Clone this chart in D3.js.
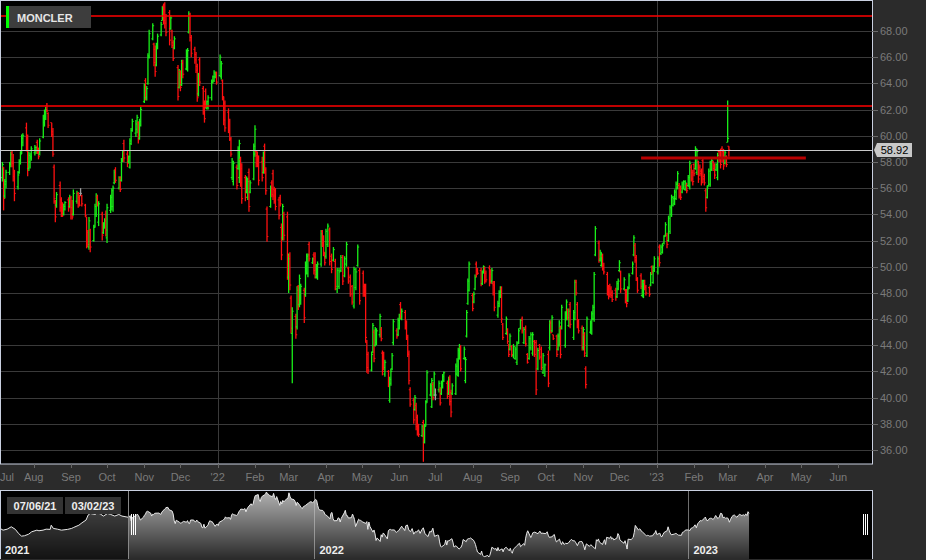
<!DOCTYPE html>
<html><head><meta charset="utf-8">
<script src="https://cdn.jsdelivr.net/npm/d3@7/dist/d3.min.js"></script>
<style>
html,body{margin:0;padding:0;background:#2b2b2b;overflow:hidden;}
svg{display:block;font-family:Arial,"Liberation Sans",sans-serif;}
</style></head><body>
<svg id="c" width="926" height="560"></svg>
<script>
// ---------------- DATA ----------------
const symbol = "MONCLER";
const firstDay = "2021-07-06", lastDay = "2023-03-02";
const viewStart = "2021-07-04", viewEnd = "2023-06-29";
const navStart = "2021-03-01", navEnd = "2023-06-30";

// daily bars [open, high, low, close] per month
const jul21 = [[56.8,58.0,56.5,57.8],[57.6,57.6,54.3,55.2],[55.4,56.7,55.2,56.5],[56.3,57.4,56.0,57.2],[57.2,58.0,57.0,57.9],[57.8,58.8,57.6,58.6],[58.7,58.9,57.6,57.9],[58.0,58.6,56.5,56.9],[56.9,57.4,55.0,55.6],[56.1,57.3,55.9,57.0],[57.2,58.2,57.1,58.0],[58.0,58.8,57.8,58.6],[58.8,60.1,58.6,59.8],[59.5,60.2,59.2,60.0],[60.6,61.0,58.8,59.1],[59.5,60.1,56.9,57.6],[57.5,58.8,57.3,58.5],[58.0,58.7,57.5,58.4],[58.3,59.2,58.1,59.0]];
const aug21 = [[58.7,59.3,58.5,59.1],[58.9,59.2,58.6,59.1],[59.5,59.7,58.6,58.8],[58.9,59.1,58.2,58.4],[58.6,59.8,58.5,59.6],[59.9,61.6,59.8,61.3],[61.0,62.0,60.7,61.8],[61.5,62.2,61.2,62.0],[62.3,62.5,61.8,61.9],[61.7,61.8,60.6,60.8],[61.0,61.0,59.9,60.1],[60.3,60.6,58.4,58.6],[57.6,57.8,54.8,55.2],[55.0,55.1,53.4,53.8],[54.7,55.7,54.5,55.5],[56.2,56.5,54.2,54.5],[55.1,55.3,53.8,54.1],[54.9,54.9,53.8,54.0],[54.0,54.8,53.9,54.6],[54.4,55.0,54.3,54.9],[55.1,55.3,54.2,54.5],[54.6,55.5,54.5,55.3]];
const sep21 = [[55.2,55.4,53.6,54.0],[54.5,55.1,53.6,53.8],[54.0,55.9,53.9,55.6],[55.0,55.8,54.8,55.6],[55.6,55.7,54.5,54.8],[55.3,55.5,54.6,54.7],[55.6,56.0,55.4,55.6],[55.4,55.5,54.6,54.8],[54.7,54.8,53.8,53.9],[53.8,53.8,51.4,51.9],[52.6,52.8,51.5,51.7],[51.5,53.8,51.3,53.5],[52.8,52.9,51.1,51.5],[52.0,53.2,51.9,53.0],[53.1,54.8,53.0,54.6],[54.0,55.6,53.8,55.3],[55.3,55.5,54.6,54.7],[53.4,55.0,53.1,54.8],[54.0,54.2,52.0,52.4],[52.6,53.4,52.5,53.3],[53.0,53.7,52.9,53.5],[54.0,54.3,52.3,52.8]];
const oct21 = [[52.2,54.8,51.8,54.5],[54.3,55.5,54.1,55.3],[54.6,56.0,54.3,55.8],[54.6,56.2,54.2,56.0],[56.4,57.4,56.3,57.2],[57.4,57.6,56.4,56.6],[56.0,56.9,55.9,56.8],[56.8,56.9,55.7,55.9],[56.6,58.3,56.5,58.1],[58.1,58.9,58.0,58.8],[59.4,59.7,58.0,58.3],[58.6,58.9,57.6,57.9],[58.0,58.5,57.9,58.4],[57.6,59.8,57.5,59.6],[59.4,60.6,59.3,60.4],[60.4,61.3,60.3,61.1],[60.2,61.2,59.9,60.9],[60.5,61.6,60.2,61.4],[61.0,61.1,59.4,59.7],[59.8,61.3,59.7,61.1],[60.8,62.2,60.7,62.0]];
const nov21 = [[62.6,64.0,62.5,63.8],[64.2,64.4,62.7,63.0],[62.9,63.8,62.7,63.6],[64.0,66.3,63.9,66.0],[66.1,68.1,65.9,67.8],[67.4,68.6,67.3,68.4],[67.0,67.1,65.3,65.6],[66.6,66.9,64.5,64.9],[65.4,67.1,65.3,66.9],[66.7,67.8,66.6,67.6],[67.7,68.7,67.6,68.5],[68.8,69.9,68.8,69.7],[69.9,70.1,68.5,68.8],[70.0,70.2,68.2,68.6],[69.1,69.3,67.6,67.9],[69.4,69.6,66.9,67.3],[68.2,69.2,68.1,69.0],[68.0,68.1,66.7,66.9],[67.1,67.3,65.7,65.9],[66.7,67.6,66.6,67.4],[65.2,65.4,62.7,63.0],[63.7,65.1,63.6,64.9]];
const dec21 = [[64.9,65.0,63.4,63.7],[63.9,65.8,63.8,65.5],[65.6,65.8,64.4,64.7],[65.1,66.6,65.0,66.4],[65.2,66.7,64.9,66.5],[67.9,69.5,67.8,69.3],[69.2,69.4,67.2,67.5],[67.5,67.7,66.0,66.3],[66.6,66.8,65.5,65.8],[66.2,66.4,64.8,65.0],[65.3,65.5,62.6,62.9],[63.2,64.8,63.0,64.6],[65.8,66.0,63.8,64.1],[63.6,63.8,61.6,61.9],[62.5,62.7,61.0,61.3],[63.4,63.6,62.1,62.3],[62.1,62.7,62.0,62.6],[62.2,63.1,62.0,62.9],[62.9,64.3,62.7,64.1],[64.1,64.6,64.0,64.5],[64.2,65.0,64.1,64.8],[64.5,64.9,64.4,64.8],[64.8,64.9,63.9,64.1]];
const jan22 = [[64.6,66.2,64.5,66.0],[64.5,65.7,64.3,65.5],[64.2,64.3,62.7,63.0],[62.9,63.0,60.8,61.2],[62.5,62.7,60.3,60.6],[61.8,62.1,60.2,60.4],[61.1,61.3,59.6,59.8],[59.7,59.9,58.4,58.6],[56.8,58.3,56.6,58.0],[56.5,58.1,56.2,57.9],[57.6,57.8,55.9,56.2],[57.5,59.2,57.4,59.0],[56.8,59.7,56.4,59.4],[58.2,58.4,56.1,56.4],[57.5,57.9,54.8,55.2],[56.8,57.0,55.0,55.3],[55.7,56.9,55.6,56.7],[55.3,56.8,55.1,56.5],[57.2,57.5,54.2,54.6],[55.7,56.6,55.6,56.4],[56.7,59.4,56.6,59.2]];
const feb22 = [[58.6,60.8,58.4,60.5],[58.8,58.9,57.6,57.9],[58.5,58.8,57.6,57.8],[58.2,58.5,56.2,56.6],[58.0,58.4,56.5,56.8],[57.2,58.8,57.1,58.6],[59.2,59.4,57.1,57.4],[57.4,57.6,55.5,55.8],[54.4,54.6,51.9,52.3],[54.6,56.2,54.5,56.0],[56.4,56.6,55.3,55.5],[57.1,57.4,55.1,55.4],[55.9,56.1,54.8,55.0],[55.8,56.0,54.3,54.6],[55.1,55.3,53.6,53.9],[55.3,55.5,54.6,54.8],[53.0,53.3,50.5,50.9],[52.2,54.8,52.0,54.6],[54.0,54.2,52.0,52.4],[53.8,54.2,49.0,49.5]];
const mar22 = [[49.2,51.0,48.0,50.6],[50.8,51.1,48.2,48.6],[47.6,47.8,44.9,45.3],[44.9,46.9,41.1,46.6],[46.2,46.4,44.5,44.8],[45.4,48.5,45.2,48.2],[48.5,48.6,46.7,47.0],[47.1,49.4,46.9,49.1],[47.4,48.7,47.1,48.5],[48.2,48.4,45.7,46.1],[47.9,50.4,47.7,50.1],[49.6,51.0,49.4,50.8],[49.5,51.0,49.2,50.9],[51.7,51.9,50.4,50.6],[50.3,50.7,50.2,50.6],[50.9,51.1,49.4,49.7],[50.8,51.1,49.1,49.4],[49.2,50.2,49.1,50.0],[49.2,50.4,49.0,50.2],[50.2,52.8,50.0,52.5],[52.7,52.8,51.5,51.7],[52.2,52.4,50.8,51.1],[51.0,51.1,50.1,50.3]];
const apr22 = [[50.8,52.9,50.6,52.7],[51.7,53.3,51.5,53.1],[52.8,53.0,50.1,50.4],[50.8,51.0,49.5,49.8],[50.5,51.5,50.4,51.3],[50.4,50.6,48.2,48.5],[48.3,49.9,48.0,49.7],[48.5,49.9,48.3,49.6],[49.7,50.9,49.6,50.7],[50.7,50.9,48.6,48.9],[49.3,50.8,49.2,50.6],[50.2,51.9,50.0,51.7],[49.9,50.0,48.7,48.9],[49.2,49.4,47.7,47.9],[48.5,48.6,47.1,47.3],[47.0,50.0,46.8,49.8],[48.4,49.9,48.2,49.6],[50.1,51.7,50.0,51.5],[49.7,49.9,47.1,47.4]];
const may22 = [[49.5,49.7,47.7,48.0],[48.5,48.7,47.7,47.9],[48.4,48.7,44.2,44.6],[44.2,44.4,41.9,42.3],[43.3,43.5,41.8,42.1],[42.1,43.5,42.0,43.3],[43.5,45.7,43.4,45.5],[45.0,45.2,42.7,43.0],[44.0,45.4,43.9,45.2],[44.2,45.3,44.0,45.1],[44.8,46.4,44.6,46.2],[45.2,45.4,44.3,44.5],[43.4,43.6,41.7,42.0],[43.3,43.5,42.1,42.3],[41.8,42.9,41.6,42.7],[42.0,42.1,40.8,41.0],[39.8,41.6,39.6,41.4],[41.1,42.2,40.9,42.0],[42.2,43.4,42.1,43.2],[44.2,46.0,44.0,45.8],[45.1,45.3,44.5,44.7],[44.8,46.1,44.7,45.9]];
const jun22 = [[45.3,46.4,45.2,46.2],[47.1,47.3,46.0,46.2],[46.0,46.8,45.9,46.6],[46.5,46.7,45.2,45.5],[45.7,45.9,44.4,44.6],[44.6,44.8,43.1,43.3],[43.4,43.6,41.0,41.3],[40.6,40.8,39.3,39.5],[39.8,40.0,38.0,38.3],[39.1,40.2,39.0,40.0],[39.4,39.6,37.5,37.8],[38.5,38.7,37.1,37.4],[37.9,38.0,37.0,37.2],[37.1,37.9,37.0,37.8],[38.1,38.3,35.1,37.0],[36.6,38.0,36.5,37.8],[37.9,39.8,37.8,39.6],[39.7,42.1,39.6,41.9],[40.2,41.1,40.1,40.9],[39.3,41.5,39.2,41.3],[41.0,41.2,39.8,40.0],[40.2,42.0,40.1,41.8]];
const jul22 = [[40.2,40.7,39.8,40.2],[40.6,41.3,40.4,41.1],[40.6,40.8,39.4,39.6],[40.3,41.3,40.2,41.1],[41.0,41.8,40.7,41.6],[41.3,42.0,41.2,41.9],[41.1,41.3,39.9,40.1],[40.3,41.6,40.2,41.4],[41.5,41.7,39.4,39.7],[40.4,40.6,38.5,38.9],[40.3,41.1,40.2,40.9],[40.3,42.6,40.2,42.4],[41.8,43.0,41.7,42.8],[41.7,43.8,41.6,43.6],[43.0,44.1,42.9,43.9],[43.8,44.0,42.0,42.2],[43.0,43.9,42.9,43.7],[41.3,43.1,41.1,42.9],[44.7,46.7,44.6,46.5],[47.2,49.1,47.1,48.9],[48.2,50.4,48.1,50.2]];
const aug22 = [[47.8,48.0,46.6,46.8],[47.3,48.1,47.2,47.9],[48.3,49.4,48.2,49.2],[50.2,50.4,49.2,49.4],[49.8,49.9,49.4,49.5],[49.7,49.9,48.5,48.7],[48.7,49.7,48.6,49.5],[49.6,50.1,49.5,50.0],[49.9,50.0,48.7,48.9],[49.5,49.7,48.8,49.0],[49.9,50.1,48.5,48.8],[49.4,49.8,48.7,48.9],[48.9,49.9,48.7,49.7],[48.7,48.9,47.8,48.0],[48.6,48.9,46.6,46.9],[46.3,47.4,46.1,47.2],[47.0,48.2,46.9,48.0],[47.7,48.5,47.6,48.3],[48.3,48.5,45.7,46.0],[45.6,45.7,44.4,44.6],[44.9,46.2,44.8,46.0],[45.1,45.3,44.1,44.3],[44.0,44.1,43.1,43.3]];
const sep22 = [[43.7,44.9,43.6,44.7],[43.9,44.0,43.1,43.3],[43.2,44.1,43.0,43.9],[43.0,43.9,42.9,43.7],[42.7,44.3,42.5,44.1],[44.2,45.3,44.1,45.1],[45.3,46.0,45.2,45.9],[46.0,46.2,44.9,45.1],[44.2,45.4,44.1,45.2],[45.3,45.5,43.9,44.1],[43.3,43.4,42.6,42.7],[43.0,44.7,42.9,44.5],[43.8,45.0,43.6,44.8],[43.4,45.0,43.2,44.8],[44.3,44.4,43.1,43.3],[44.2,44.4,40.2,40.6],[42.2,43.8,42.1,43.6],[44.0,44.1,42.9,43.1],[43.7,43.9,42.1,42.3],[41.9,43.4,41.8,43.2],[41.7,42.6,41.6,42.5]];
const oct22 = [[43.3,43.6,40.8,41.1],[43.8,45.9,43.6,45.7],[45.7,45.9,44.9,45.0],[45.1,46.3,45.0,46.1],[44.8,44.8,44.4,44.5],[44.7,44.8,43.1,43.3],[43.7,44.9,43.6,44.7],[44.0,45.9,43.9,45.7],[45.3,45.5,43.0,43.3],[45.3,47.1,45.2,46.9],[44.0,46.6,43.8,46.4],[46.0,47.5,45.9,47.3],[46.7,46.8,45.9,46.1],[45.5,46.8,45.4,46.6],[47.1,47.3,45.3,45.6],[44.6,46.7,44.4,46.5],[46.0,49.0,45.9,48.8],[48.9,49.0,47.8,48.0],[47.1,47.3,45.3,45.6],[45.8,46.0,44.9,45.1],[45.3,45.5,43.6,43.9]];
const nov22 = [[43.8,45.4,43.6,45.2],[44.8,45.0,43.1,43.4],[42.2,42.4,40.7,41.0],[43.2,46.2,43.1,46.0],[45.0,45.9,44.9,45.7],[44.9,46.6,44.8,46.4],[46.0,47.1,45.9,46.9],[46.0,49.6,45.8,49.4],[50.9,53.1,50.8,52.9],[51.8,52.0,50.3,50.6],[50.5,51.3,50.4,51.1],[50.1,51.1,50.0,50.9],[50.8,51.0,49.7,49.9],[50.1,50.3,49.4,49.6],[49.4,49.6,47.8,48.1],[48.4,48.6,47.5,47.7],[48.5,48.7,47.7,47.9],[48.3,48.5,47.6,47.8],[48.0,48.2,47.3,47.5],[48.2,48.4,47.4,47.7],[47.7,48.9,47.6,48.7],[48.3,49.1,48.2,48.9]];
const dec22 = [[49.7,50.5,49.6,50.3],[49.6,49.7,48.0,48.3],[48.3,49.2,48.2,49.0],[48.2,48.3,47.2,47.4],[48.1,48.3,46.9,47.2],[47.4,48.5,47.3,48.3],[48.4,49.5,48.3,49.3],[49.5,50.4,49.4,50.2],[50.9,52.4,50.8,52.2],[51.6,51.8,50.3,50.5],[50.7,50.9,48.9,49.1],[49.0,49.2,48.0,48.2],[49.3,49.5,48.3,48.5],[47.8,49.0,47.7,48.8],[47.7,49.0,47.6,48.8],[48.8,49.0,48.2,48.4],[48.5,48.6,47.8,48.0],[48.4,48.5,47.7,47.9],[48.6,49.6,48.5,49.4],[50.0,50.1,49.4,49.6],[48.8,50.1,48.7,49.9],[49.7,50.8,49.6,50.6]];
const jan23 = [[49.6,50.8,49.4,50.6],[51.5,51.7,50.0,50.3],[51.0,51.7,50.9,51.5],[51.1,51.8,51.0,51.6],[51.8,52.4,51.7,52.3],[52.4,53.4,52.3,53.2],[52.4,52.6,51.4,51.7],[52.0,53.9,51.9,53.7],[52.7,54.7,52.5,54.5],[54.0,55.5,53.8,55.3],[54.7,55.4,54.6,55.2],[54.8,55.9,54.7,55.7],[55.2,56.5,55.1,56.3],[56.0,57.3,55.9,57.1],[56.2,56.4,55.2,55.4],[56.0,56.2,55.1,55.3],[55.7,56.5,55.6,56.3],[56.0,56.6,55.9,56.5],[55.9,56.6,55.8,56.4],[56.2,56.4,55.6,55.8],[56.2,57.0,56.1,56.8],[56.1,58.1,55.9,57.9],[57.6,57.8,56.5,56.7],[57.2,57.4,56.2,56.5]];
const feb23 = [[57.8,57.9,56.9,57.1],[57.5,59.2,57.4,59.0],[57.2,59.0,57.0,58.8],[58.0,58.1,56.4,56.7],[57.6,57.8,56.9,57.1],[57.3,57.5,56.2,56.4],[58.1,58.3,56.4,56.7],[56.9,57.1,56.2,56.4],[55.8,56.0,54.2,54.5],[55.3,56.2,55.2,56.0],[56.2,57.5,56.1,57.3],[56.3,58.1,56.1,57.9],[57.4,58.3,57.3,58.1],[58.0,58.1,57.3,57.5],[57.7,57.9,56.7,57.0],[57.4,57.9,57.3,57.8],[56.8,58.7,56.6,58.5],[58.8,58.9,58.0,58.2],[58.8,59.0,57.5,57.8],[59.0,59.2,58.0,58.3],[58.8,59.0,57.4,57.7],[57.9,58.9,57.8,58.7],[58.4,58.5,57.6,57.8]];
const mar23 = [[59.5,62.7,59.5,59.8],[59.2,59.2,58.4,58.92]];

const monthKeys = ["2021-07","2021-08","2021-09","2021-10","2021-11","2021-12","2022-01","2022-02","2022-03","2022-04","2022-05","2022-06","2022-07","2022-08","2022-09","2022-10","2022-11","2022-12","2023-01","2023-02","2023-03"];
const monthBars = [jul21,aug21,sep21,oct21,nov21,dec21,jan22,feb22,mar22,apr22,may22,jun22,jul22,aug22,sep22,oct22,nov22,dec22,jan23,feb23,mar23];

// navigator history before the main view (closes)
const navPreDates = ["2021-03-01","2021-03-04","2021-03-08","2021-03-12","2021-03-16","2021-03-19","2021-03-22","2021-03-25","2021-03-29","2021-04-01","2021-04-06","2021-04-08","2021-04-12","2021-04-15","2021-04-19","2021-04-20","2021-04-22","2021-04-26","2021-04-30","2021-05-06","2021-05-10","2021-05-12","2021-05-17","2021-05-20","2021-05-24","2021-05-26","2021-05-28","2021-06-02","2021-06-04","2021-06-07","2021-06-10","2021-06-14","2021-06-17","2021-06-21","2021-06-25","2021-06-28","2021-07-02","2021-07-05"];
const navPreCloses = [51.4,50.5,51.0,52.2,50.9,48.9,47.5,47.7,48.5,49.7,50.5,50.2,50.5,51.0,50.9,53.0,51.4,51.0,50.5,50.9,51.4,51.9,53.0,54.2,55.6,58.1,58.9,58.4,59.3,58.6,57.6,58.9,58.4,57.6,58.4,57.6,57.2,56.9];

const yTicks = [36,38,40,42,44,46,48,50,52,54,56,58,60,62,64,66,68];
const resistanceLevels = [69.15, 62.27];
const supportLevel = 58.30, supportFrom = "2022-12-19", supportTo = "2023-05-05";
const lastPrice = 58.92;
const rangeLabels = ["07/06/21","03/02/23"];

// ---------------- BUILD ----------------
const parse = d3.timeParse("%Y-%m-%d");
function weekdays(a,b){const out=[];for(let d=new Date(a);d<=b;d=d3.timeDay.offset(d,1)){const w=d.getDay();if(w>0&&w<6)out.push(new Date(d));}return out;}
const bars=[];
monthKeys.forEach((k,i)=>{
  const mStart=parse(k+"-01");
  const mEnd=d3.timeDay.offset(d3.timeMonth.offset(mStart,1),-1);
  const s=mStart<parse(firstDay)?parse(firstDay):mStart;
  const e=mEnd>parse(lastDay)?parse(lastDay):mEnd;
  const days=weekdays(s,e);
  const arr=monthBars[i];
  arr.forEach((v,j)=>{
    let date;
    if(arr.length===days.length) date=days[j];
    else {const t0=+days[0],t1=+days[days.length-1];date=new Date(t0+(arr.length===1?0:j*(t1-t0)/(arr.length-1)));}
    bars.push({date,o:v[0],h:v[1],l:v[2],c:v[3]});
  });
});
const navData = navPreDates.map((d,i)=>({date:parse(d),c:navPreCloses[i]})).concat(bars.map(b=>({date:b.date,c:b.c})));

const W=926,H=560, PR=872, PB=464, NT=490, NB=559;
const svg=d3.select("#c");
const x=d3.scaleTime().domain([parse(viewStart),parse(viewEnd)]).range([0,PR]);
const y=d3.scaleLinear().domain([36,68]).range([450,31]);
const xn=d3.scaleTime().domain([parse(navStart),parse(navEnd)]).range([0,PR]);
const yn=d3.scaleLinear().domain(d3.extent(navData,d=>d.c)).range([557,492]);

svg.append("rect").attr("width",W).attr("height",H).attr("fill","#2b2b2b");
svg.append("rect").attr("x",0).attr("y",0).attr("width",PR).attr("height",PB).attr("fill","#000");

const defs=svg.append("defs");
defs.append("clipPath").attr("id","pc").append("rect").attr("x",0).attr("y",0).attr("width",PR).attr("height",PB);

// grid
const g=svg.append("g").attr("clip-path","url(#pc)");
g.selectAll(".hg").data(yTicks).enter().append("line")
 .attr("x1",0).attr("x2",PR).attr("y1",d=>Math.round(y(d))+0.5).attr("y2",d=>Math.round(y(d))+0.5)
 .attr("stroke","#3a3a3a").attr("stroke-width",1);
const years=d3.timeYear.range(parse(viewStart),parse(viewEnd));
g.selectAll(".vg").data(years).enter().append("line")
 .attr("x1",d=>Math.round(x(d))+0.5).attr("x2",d=>Math.round(x(d))+0.5).attr("y1",0).attr("y2",PB)
 .attr("stroke","#3a3a3a");

// OHLC bars
const col=d=>d.c>d.o?"#19f019":(d.c<d.o?"#ff1010":"#a0a0a0");
const bg=g.append("g");
bars.forEach(d=>{
  const cx=x(d.date);
  bg.append("line").attr("x1",cx).attr("x2",cx).attr("y1",y(d.h)).attr("y2",y(d.l)).attr("stroke",col(d)).attr("stroke-width",1.3);
  bg.append("line").attr("x1",cx-1.4).attr("x2",cx).attr("y1",y(d.o)).attr("y2",y(d.o)).attr("stroke",col(d)).attr("stroke-width",1);
  bg.append("line").attr("x1",cx).attr("x2",cx+1.4).attr("y1",y(d.c)).attr("y2",y(d.c)).attr("stroke",col(d)).attr("stroke-width",1);
});

// level lines
g.selectAll(".rl").data(resistanceLevels).enter().append("line")
 .attr("x1",0).attr("x2",PR).attr("y1",d=>y(d)).attr("y2",d=>y(d)).attr("stroke","#ff0000").attr("stroke-width",1.5);
g.append("line").attr("x1",x(parse(supportFrom))).attr("x2",x(parse(supportTo)))
 .attr("y1",y(supportLevel)).attr("y2",y(supportLevel)).attr("stroke","#b80000").attr("stroke-width",3);
g.append("line").attr("x1",0).attr("x2",PR).attr("y1",Math.round(y(lastPrice))+0.5).attr("y2",Math.round(y(lastPrice))+0.5)
 .attr("stroke","#c8c8c8").attr("stroke-width",1);

// plot border
svg.append("rect").attr("x",0.5).attr("y",0.5).attr("width",PR).attr("height",PB-0.5)
 .attr("fill","none").attr("stroke","#c9d0e0").attr("stroke-width",1);

// legend
svg.append("rect").attr("x",6).attr("y",6).attr("width",85).attr("height",22).attr("fill","#3d3d3d");
svg.append("rect").attr("x",6).attr("y",6).attr("width",3).attr("height",22).attr("fill","#00ff00");
svg.append("text").attr("x",17).attr("y",21.5).attr("fill","#e6e6e6").attr("font-size",11).attr("font-weight","bold").text(symbol);

// right axis
const ra=svg.append("g");
yTicks.forEach(t=>{
  const yy=Math.round(y(t))+0.5;
  ra.append("line").attr("x1",PR).attr("x2",PR+6).attr("y1",yy).attr("y2",yy).attr("stroke","#6a6a6a");
  ra.append("text").attr("x",PR+8).attr("y",yy).attr("dy","0.35em").attr("fill","#7a7a7a").attr("font-size",11).text(d3.format(".2f")(t));
});
// last price tag
const ly=y(lastPrice);
ra.append("path").attr("d",`M${PR+2},${ly} L${PR+5},${ly-7} L${PR+40},${ly-7} L${PR+40},${ly+7} L${PR+5},${ly+7} Z`).attr("fill","#c8c8c8");
ra.append("text").attr("x",PR+22.5).attr("y",ly).attr("dy","0.36em").attr("text-anchor","middle").attr("fill","#000").attr("font-size",11).text(d3.format(".2f")(lastPrice));

// bottom axis
const months=d3.timeMonth.range(d3.timeMonth.floor(parse(viewStart)),parse(viewEnd));
const fmt=d=>d.getMonth()===0?"'"+d3.timeFormat("%y")(d):d3.timeFormat("%b")(d);
months.forEach(m=>{
  const mx=x(m);
  if(mx>=0) svg.append("line").attr("x1",Math.round(mx)+0.5).attr("x2",Math.round(mx)+0.5).attr("y1",PB).attr("y2",PB+4).attr("stroke","#666");
  svg.append("text").attr("x",Math.max(mx,7)).attr("y",481).attr("text-anchor","middle").attr("fill","#7a7a7a").attr("font-size",11).text(fmt(m));
});

// navigator
const nav=svg.append("g");
nav.append("rect").attr("x",0).attr("y",NT).attr("width",PR).attr("height",NB-NT).attr("fill","#000");
const grad=defs.append("linearGradient").attr("id","ng").attr("gradientUnits","userSpaceOnUse").attr("x1",0).attr("y1",NT).attr("x2",0).attr("y2",NB);
grad.append("stop").attr("offset",0).attr("stop-color","#b4b4b4");
grad.append("stop").attr("offset",1).attr("stop-color","#2a2a2a");
nav.append("path").datum(navData).attr("d",d3.area().x(d=>xn(d.date)).y0(NB).y1(d=>yn(d.c))).attr("fill","url(#ng)");
const selL=xn(parse(viewStart)), selR=xn(parse(viewEnd));
nav.append("rect").attr("x",0).attr("y",NT).attr("width",selL).attr("height",NB-NT).attr("fill","rgba(0,0,0,0.55)");
nav.append("path").datum(navData).attr("d",d3.line().x(d=>xn(d.date)).y(d=>yn(d.c))).attr("fill","none").attr("stroke","#e8e8e8").attr("stroke-width",1);
const nyears=d3.timeYear.range(parse(navStart),parse(navEnd));
nyears.forEach(yv=>{
  const xx=Math.round(xn(yv))+0.5;
  nav.append("line").attr("x1",xx).attr("x2",xx).attr("y1",NT).attr("y2",NB).attr("stroke","rgba(200,200,200,0.55)");
  nav.append("text").attr("x",xx+5).attr("y",554).attr("fill","#eee").attr("font-size",11).attr("font-weight","bold").text(d3.timeFormat("%Y")(yv));
});
nav.append("text").attr("x",5).attr("y",554).attr("fill","#eee").attr("font-size",11).attr("font-weight","bold").text(d3.timeFormat("%Y")(parse(navStart)));
nav.append("line").attr("x1",Math.round(selL)+0.5).attr("x2",Math.round(selL)+0.5).attr("y1",NT).attr("y2",NB).attr("stroke","#888");
// handles
[[selL+3],[selR-8]].forEach(([hx])=>{
  [0,2,4].forEach(o=>nav.append("line").attr("x1",Math.round(hx)+o+0.5).attr("x2",Math.round(hx)+o+0.5).attr("y1",514).attr("y2",535).attr("stroke","#fff").attr("stroke-width",1));
});
// range labels
rangeLabels.forEach((t,i)=>{
  const bx=7+i*58;
  nav.append("rect").attr("x",bx).attr("y",497).attr("width",56).attr("height",17).attr("fill","#333");
  nav.append("text").attr("x",bx+28).attr("y",509.5).attr("text-anchor","middle").attr("fill","#eee").attr("font-size",11).attr("font-weight","bold").text(t);
});
nav.append("line").attr("x1",0).attr("x2",PR).attr("y1",NT+0.5).attr("y2",NT+0.5).attr("stroke","#c9d0e0");
nav.append("line").attr("x1",PR+0.5).attr("x2",PR+0.5).attr("y1",NT).attr("y2",NB).attr("stroke","#c9d0e0");
nav.append("line").attr("x1",0.5).attr("x2",0.5).attr("y1",NT).attr("y2",NB).attr("stroke","#c9d0e0");
</script>
</body></html>
